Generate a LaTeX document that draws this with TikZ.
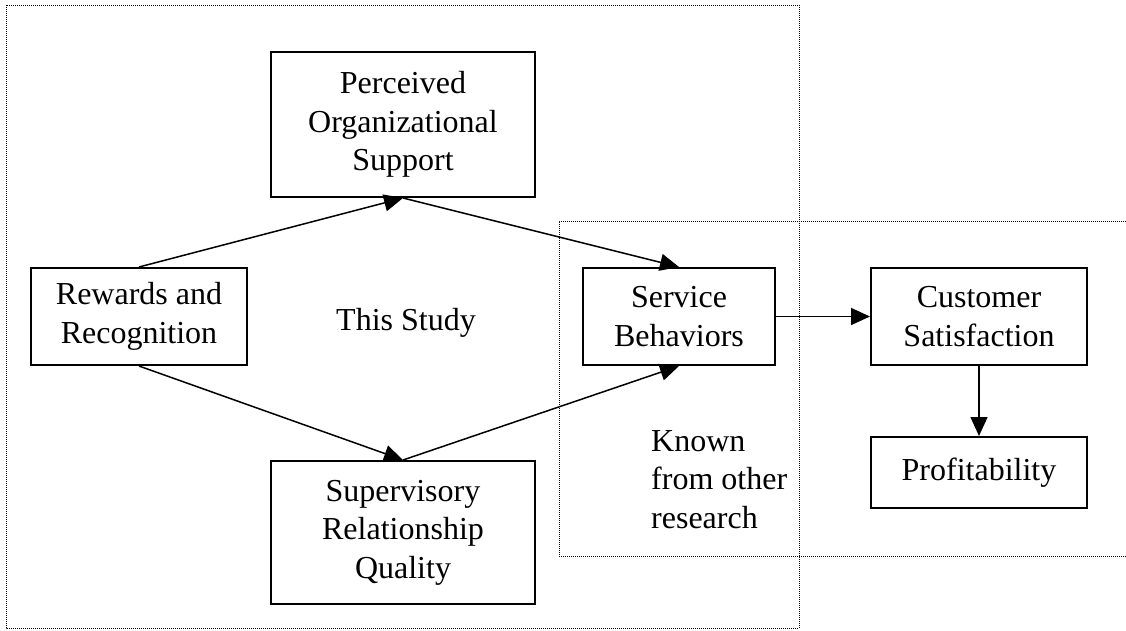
\documentclass[tikz,border=0pt]{standalone}
\usepackage{fontspec}
\setmainfont{Liberation Serif}
\usetikzlibrary{arrows.meta}

\begin{document}
\begin{tikzpicture}[x=1pt, y=-1pt,
    main/.style = {draw, line width=2pt, align=center, inner sep=0pt, font=\fontsize{32}{38.5}\selectfont},
    txt/.style = {inner sep=0pt, font=\fontsize{32}{38.5}\selectfont},
    link/.style = {-{Triangle[length=19pt, width=17pt]}, line width=1.5pt},
    zone/.style = {line width=1pt, dash pattern=on 1pt off 1pt}]
    \useasboundingbox (0,0) rectangle (1126,630);

    % the two regions
    \draw[zone] (6,5) rectangle (799,628);
    \draw[zone] (1126,221) -| (559,556) -- (1126,556);

    \node[main, minimum width=264pt, minimum height=145pt] (pos) at (403,124.5) {Perceived\\Organizational\\Support};
    \node[main, minimum width=216pt, minimum height=97pt] (rew) at (139,316.5) {Rewards and\\Recognition};
    \node[main, minimum width=264pt, minimum height=143pt] (srq) at (403,532.5) {Supervisory\\Relationship\\Quality};
    \node[main, minimum width=192pt, minimum height=97pt] (serv) at (679,316.5) {Service\\Behaviors};
    \node[main, minimum width=216pt, minimum height=97pt] (cust) at (979,316.5) {Customer\\Satisfaction};
    \node[main, minimum width=216pt, minimum height=71pt] (prof) at (979,472.5) {Profitability};

    \node[txt, anchor=base] (study) at (406,330) {This Study};
    \node[txt, align=left, anchor=west] (known) at (651,479.5) {Known\\from other\\research};

    \draw[link] (rew.north) -- (pos.south);
    \draw[link] (pos.south) -- (serv.north);
    \draw[link] (rew.south) -- (srq.north);
    \draw[link] (srq.north) -- (serv.south);
    \draw[link] (serv.east) -- (cust.west);
    \draw[link] (cust.south) -- (prof.north);

\end{tikzpicture}
\end{document}
